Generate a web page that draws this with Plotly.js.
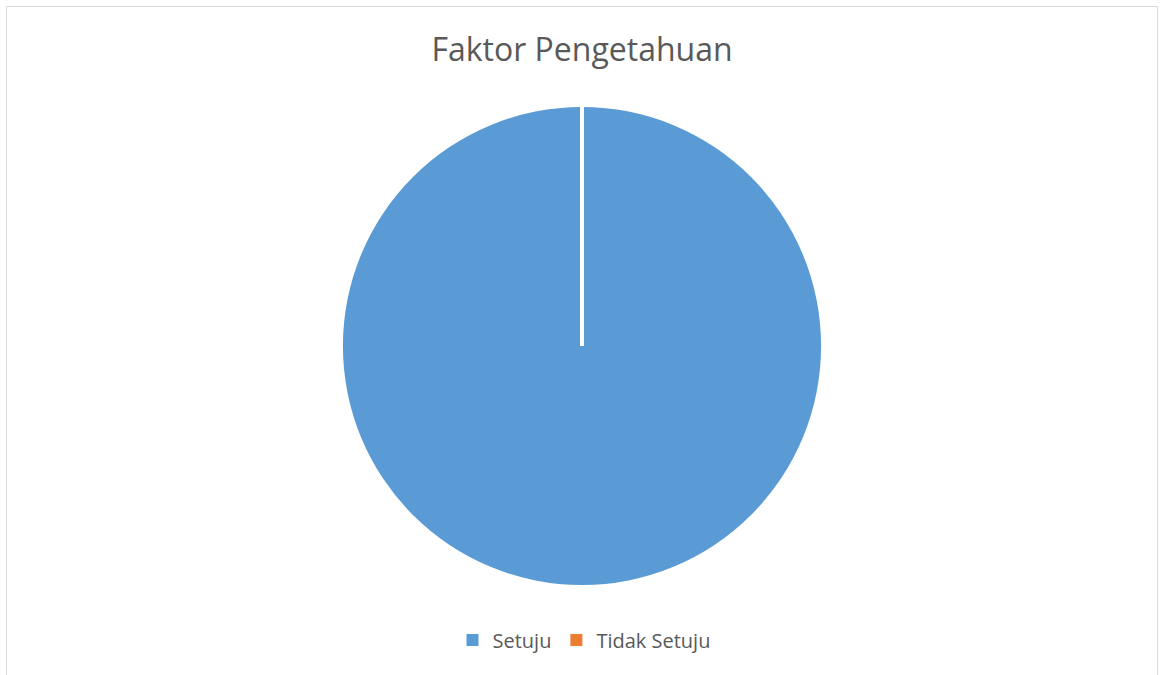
<!DOCTYPE html>
<html>
<head>
<meta charset="utf-8">
<script src="https://cdn.plot.ly/plotly-3.0.1.min.js"></script>
<style>html,body{margin:0;padding:0;background:#fff;}#chart{width:1160px;height:675px;}</style>
</head>
<body>
<div id="chart"></div>
<script>
var categories = ["Setuju", "Tidak Setuju"];
var values = [100, 0];
var colors = ["#5B9BD5", "#ED7D31"];
var chartTitle = "Faktor Pengetahuan";

var W = 1160, H = 675;
var cx = 582, cy = 346, r = 239;
var dom = {
  x: [(cx - r) / W, (cx + r) / W],
  y: [1 - (cy + r) / H, 1 - (cy - r) / H]
};

var trace = {
  type: "pie",
  labels: categories,
  values: values,
  marker: {colors: colors, line: {color: "#ffffff", width: 0}},
  sort: false,
  direction: "clockwise",
  rotation: 0,
  textinfo: "none",
  hoverinfo: "label+percent",
  domain: dom,
  showlegend: true
};

var layout = {
  width: W, height: H,
  margin: {l: 0, r: 0, t: 0, b: 0},
  paper_bgcolor: "#ffffff",
  font: {family: "Open Sans, Calibri, sans-serif", color: "#595959"},
  title: {
    text: chartTitle,
    font: {size: 32, color: "#595959", family: "Open Sans, sans-serif"},
    x: 582 / W, xanchor: "center",
    y: 1 - 50 / H, yanchor: "middle"
  },
  legend: {
    orientation: "h",
    x: 584 / W, xanchor: "center",
    y: 1 - 640 / H, yanchor: "middle",
    font: {size: 20, color: "#595959"},
    itemwidth: 30
  },
  shapes: [
    {type: "rect", xref: "paper", yref: "paper",
     x0: 6.5 / W, x1: 1157.5 / W, y0: -0.05, y1: 1 - 6.5 / H,
     line: {color: "#d9d9d9", width: 1}, fillcolor: "rgba(0,0,0,0)"},
    {type: "line", xref: "paper", yref: "paper",
     x0: cx / W, x1: cx / W, y0: 1 - cy / H, y1: 1 - (cy - r - 2) / H,
     line: {color: "#ffffff", width: 4}}
  ]
};

Plotly.newPlot("chart", [trace], layout, {displayModeBar: false, staticPlot: true});
</script>
</body>
</html>
